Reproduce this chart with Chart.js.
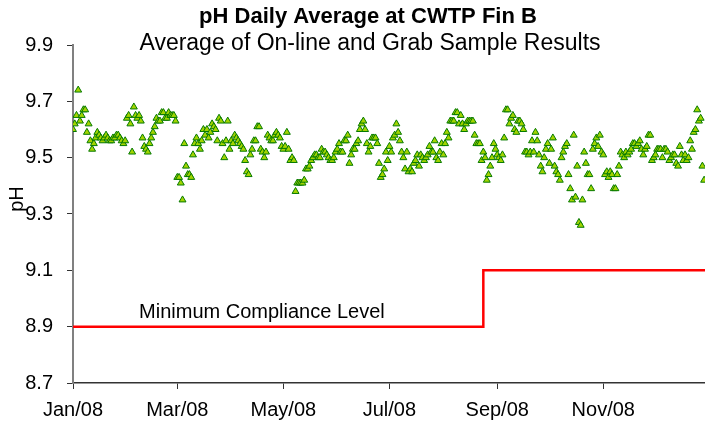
<!DOCTYPE html>
<html>
<head>
<meta charset="utf-8">
<title>pH Daily Average at CWTP Fin B</title>
<script src="https://cdn.jsdelivr.net/npm/chart.js@4.4.1/dist/chart.umd.min.js"></script>
<style>
  html, body { margin: 0; padding: 0; background: #fff; }
  #wrap { position: relative; width: 705px; height: 421px; }
</style>
</head>
<body>
<div id="wrap"><canvas id="phChart"></canvas></div>
<script>
// daily pH averages, index = day of year 2008 (0 = Jan 1)
const phDaily = [
  9.60, 9.62, 9.65, 9.74, 9.63, 9.65, 9.67, 9.67, 9.59, 9.62,
  9.56, 9.53, 9.55, 9.57, 9.59, 9.58, 9.57, 9.56, 9.57, 9.58,
  9.57, 9.56, 9.56, 9.57, 9.57, 9.58, 9.58, 9.57, 9.56, 9.55,
  9.56, 9.64, 9.65, 9.62, 9.52, 9.68, 9.65, 9.64, 9.65, 9.63,
  9.57, 9.54, 9.53, 9.52, 9.55, 9.57, 9.59, 9.61, 9.64, 9.63,
  9.63, 9.66, 9.66, 9.64, 9.64, 9.66, 9.65, 9.65, 9.65, 9.63,
  9.43, 9.43, 9.41, 9.35, 9.55, 9.47, 9.44, 9.44, 9.43, 9.51,
  9.55, 9.57, 9.55, 9.53, 9.56, 9.60, 9.58, 9.60, 9.57, 9.59,
  9.62, 9.61, 9.60, 9.56, 9.64, 9.63, 9.55, 9.50, 9.56, 9.63,
  9.53, 9.56, 9.55, 9.58, 9.57, 9.56, 9.55, 9.54, 9.53, 9.49,
  9.45, 9.44, 9.51, 9.53, 9.56, 9.56, 9.61, 9.61, 9.53, 9.52,
  9.50, 9.52, 9.58, 9.57, 9.56, 9.56, 9.58, 9.59, 9.58, 9.57,
  9.54, 9.53, 9.54, 9.59, 9.53, 9.49, 9.50, 9.49, 9.38, 9.41,
  9.41, 9.41, 9.41, 9.42, 9.46, 9.46, 9.47, 9.49, 9.50, 9.51,
  9.51, 9.50, 9.50, 9.53, 9.52, 9.52, 9.51, 9.50, 9.49, 9.49,
  9.50, 9.52, 9.53, 9.55, 9.52, 9.52, 9.56, 9.56, 9.58, 9.48,
  9.51, 9.53, 9.53, 9.55, 9.56, 9.60, 9.62, 9.63, 9.60, 9.55,
  9.52, 9.54, 9.57, 9.57, 9.57, 9.55, 9.48, 9.43, 9.44, 9.46,
  9.52, 9.49, 9.54, 9.52, 9.57, 9.58, 9.62, 9.59, 9.56, 9.52,
  9.50, 9.46, 9.52, 9.45, 9.46, 9.45, 9.48, 9.49, 9.51, 9.47,
  9.51, 9.50, 9.49, 9.50, 9.51, 9.54, 9.52, 9.52, 9.56, 9.50,
  9.49, 9.52, 9.55, 9.51, 9.55, 9.59, 9.57, 9.63, 9.63, 9.63,
  9.66, 9.66, 9.62, 9.65, 9.62, 9.60, 9.62, 9.63, 9.63, 9.63,
  9.63, 9.58, 9.55, 9.55, 9.55, 9.49, 9.52, 9.50, 9.42, 9.44,
  9.47, 9.50, 9.55, 9.53, 9.51, 9.50, 9.49, 9.51, 9.57, 9.67,
  9.67, 9.62, 9.64, 9.65, 9.60, 9.59, 9.63, 9.63, 9.62, 9.60,
  9.52, 9.52, 9.51, 9.52, 9.56, 9.52, 9.59, 9.56, 9.51, 9.47,
  9.45, 9.50, 9.53, 9.55, 9.48, 9.53, 9.57, 9.47, 9.45, 9.44,
  9.42, 9.50, 9.52, 9.54, 9.55, 9.44, 9.39, 9.35, 9.58, 9.36,
  9.47, 9.27, 9.26, 9.35, 9.52, 9.48, 9.44, 9.44, 9.39, 9.53,
  9.55, 9.57, 9.54, 9.58, 9.52, 9.51, 9.44, 9.45, 9.43, 9.45,
  9.44, 9.39, 9.39, 9.44, 9.47, 9.52, 9.51, 9.50, 9.52, 9.51,
  9.52, 9.53, 9.55, 9.55, 9.54, 9.55, 9.56, 9.53, 9.51, 9.53,
  9.54, 9.58, 9.58, 9.49, 9.50, 9.51, 9.53, 9.53, 9.53, 9.50,
  9.53, 9.53, 9.52, 9.49, 9.50, 9.51, 9.51, 9.48, 9.47, 9.54,
  9.51, 9.49, 9.51, 9.49, 9.50, 9.56, 9.53, 9.59, 9.60, 9.67,
  9.63, 9.64, 9.47, 9.42
];

// minimum compliance level steps (day of year where each level starts)
const complianceDays = [0, 236, 366];
const complianceLevels = [8.9, 9.1, 9.1];
const complianceLabel = 'Minimum Compliance Level';
const complianceLabelDay = 38;

const monthTickDays = [0, 60, 121, 182, 244, 305];
const monthTickLabels = ['Jan/08', 'Mar/08', 'May/08', 'Jul/08', 'Sep/08', 'Nov/08'];
const yTickValues = [8.7, 8.9, 9.1, 9.3, 9.5, 9.7, 9.9];

const titleText = 'pH Daily Average at CWTP Fin B';
const subtitleText = 'Average of On-line and Grab Sample Results';
const yAxisTitle = 'pH';

const FONT = "'Liberation Sans', Arial, sans-serif";
Chart.defaults.font.family = FONT;
Chart.defaults.color = '#000';

const textPlugin = {
    id: 'chartText',
    afterDraw(chart) {
        const ctx = chart.ctx;
        const x = chart.scales.x;
        const y = chart.scales.y;
        ctx.save();
        ctx.fillStyle = '#000';
        ctx.textAlign = 'center';
        ctx.textBaseline = 'middle';
        ctx.font = `bold 22px ${FONT}`;
        ctx.fillText(titleText, 368, 17);
        ctx.font = `23px ${FONT}`;
        ctx.fillText(subtitleText, 370, 44);

        ctx.font = `20px ${FONT}`;
        ctx.textAlign = 'left';
        ctx.fillText(complianceLabel, x.getPixelForValue(complianceLabelDay), y.getPixelForValue(complianceLevels[0]) - 14);

        ctx.translate(17, 199);
        ctx.rotate(-Math.PI / 2);
        ctx.textAlign = 'center';
        ctx.fillText(yAxisTitle, 0, 0);
        ctx.restore();
    }
};

new Chart(document.getElementById('phChart'), {
    type: 'scatter',
    data: {
        datasets: [
            {
                label: 'pH',
                data: phDaily.map((v, i) => ({ x: i, y: v })),
                pointStyle: 'triangle',
                pointRadius: 4,
                pointBorderWidth: 1,
                pointBackgroundColor: '#a2d400',
                pointBorderColor: '#067a00'
            },
            {
                label: complianceLabel,
                data: complianceDays.map((d, i) => ({ x: d, y: complianceLevels[i] })),
                showLine: true,
                stepped: 'before',
                borderColor: '#ff0000',
                borderWidth: 2.5,
                pointRadius: 0
            }
        ]
    },
    options: {
        responsive: true,
        maintainAspectRatio: false,
        animation: false,
        layout: { autoPadding: false, padding: { top: 45, right: 0, bottom: 0, left: 0 } },
        plugins: {
            legend: { display: false },
            tooltip: { enabled: false },
            title: { display: false }
        },
        scales: {
            x: {
                type: 'linear',
                min: 0,
                max: 363.5,
                afterBuildTicks: (s) => { s.ticks = monthTickDays.map((v) => ({ value: v })); },
                afterFit: (s) => {
                    s.height = 38;
                    s.paddingLeft = 0;
                    s.paddingRight = 0;
                },
                ticks: {
                    autoSkip: false,
                    maxRotation: 0,
                    padding: 9,
                    font: { size: 20 },
                    callback: (v) => monthTickLabels[monthTickDays.indexOf(v)]
                },
                grid: { drawOnChartArea: false, drawTicks: true, tickLength: 6, color: '#333' },
                border: { color: '#333', width: 1.5 }
            },
            y: {
                min: 8.7,
                max: 9.9,
                afterBuildTicks: (s) => { s.ticks = yTickValues.map((v) => ({ value: v })); },
                afterFit: (s) => { s.width = 73; },
                ticks: {
                    padding: 14,
                    font: { size: 20 },
                    callback: (v) => v.toFixed(1)
                },
                grid: { drawOnChartArea: false, drawTicks: true, tickLength: 6, color: '#333' },
                border: { color: '#808080', width: 2 }
            }
        }
    },
    plugins: [textPlugin]
});
</script>
</body>
</html>
